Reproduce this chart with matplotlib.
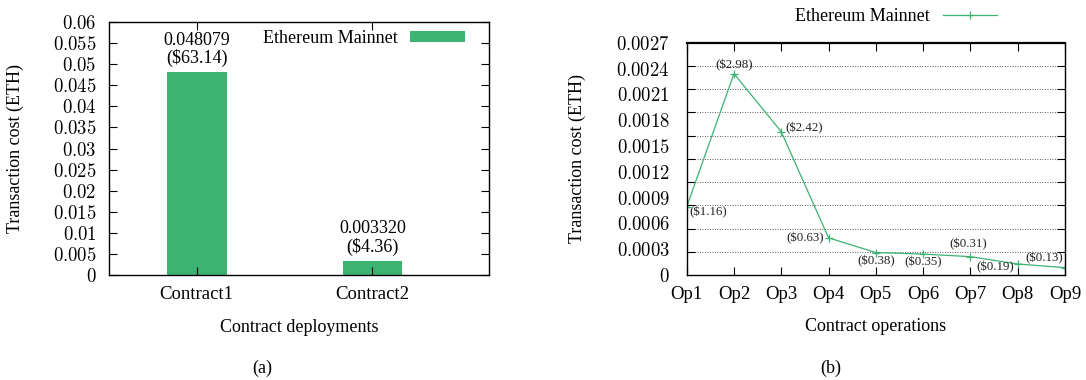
import numpy as np
import matplotlib
matplotlib.use("Agg")
import matplotlib.pyplot as plt
from matplotlib.ticker import FixedLocator, NullFormatter
from matplotlib.lines import Line2D
from matplotlib.patches import Patch

# ---------------- data ----------------
contracts = ["Contract1", "Contract2"]
deploy_eth = [0.048079, 0.003320]
deploy_usd = ["$63.14", "$4.36"]
left_yticks = [0, 0.005, 0.01, 0.015, 0.02, 0.025, 0.03, 0.035, 0.04, 0.045, 0.05, 0.055, 0.06]
left_yticklabels = ["0", "0.005", "0.01", "0.015", "0.02", "0.025", "0.03", "0.035",
                    "0.04", "0.045", "0.05", "0.055", "0.06"]

ops = ["Op1", "Op2", "Op3", "Op4", "Op5", "Op6", "Op7", "Op8", "Op9"]
op_eth = [0.00088, 0.0026, 0.00185, 0.00048, 0.00029, 0.00027, 0.000237, 0.000142, 0.000095]
op_usd = ["$1.16", "$2.98", "$2.42", "$0.63", "$0.38", "$0.35", "$0.31", "$0.19", "$0.13"]
right_yticklabels = ["0", "0.0003", "0.0006", "0.0009", "0.0012", "0.0015",
                     "0.0018", "0.0021", "0.0024", "0.0027"]
right_grid = [0.0003, 0.0006, 0.0009, 0.0012, 0.0015, 0.0018, 0.0021, 0.0024, 0.0027]

# label placement (pixels offset, alignment)
op_label_pos = [(3, -5, "left"), (0, 9, "center"), (4, 4, "left"), (-5, 0, "right"),
                (0, -9, "center"), (0, -8, "center"), (-2, 12, "center"),
                (-4, -3, "right"), (-2, 9, "right")]

GREEN = "#3cb371"
plt.rcParams["font.family"] = ["Liberation Serif", "DejaVu Serif"]
plt.rcParams["mathtext.fontset"] = "cm"

W, H = 1086, 380
fig = plt.figure(figsize=(W / 100, H / 100), dpi=100)

def ax_rect(l, r, t, b):
    return [l / W, (H - b) / H, (r - l) / W, (b - t) / H]

def cm(s):
    return "$" + s + "$"

# ---------------- (a) bar chart ----------------
ax1 = fig.add_axes(ax_rect(109, 489, 22, 275))
x = np.arange(len(contracts))
bars = ax1.bar(x, deploy_eth, width=0.34, color=GREEN, label="Ethereum Mainnet")
ax1.set_xlim(-0.499, 1.663)
ax1.set_ylim(0, 0.06)
ax1.set_xticks(x)
ax1.set_xticklabels(contracts, fontsize=13.5)
ax1.set_yticks(left_yticks)
ax1.set_yticklabels([cm(s) for s in left_yticklabels], fontsize=13.5)
ax1.tick_params(direction="in", length=6, width=0.8, top=True, right=True, colors="black")
ax1.tick_params(axis="y", pad=9)
ax1.tick_params(axis="x", pad=8)
for sp in ax1.spines.values():
    sp.set_linewidth(1.0)
for xi, v, usd in zip(x, deploy_eth, deploy_usd):
    ax1.annotate(f"{v:.6f}\n({usd})", xy=(xi, v), xytext=(0, 5), textcoords="offset pixels",
                 ha="center", va="bottom", fontsize=13, linespacing=1.05)
ax1.set_xlabel("Contract deployments", fontsize=13)
ax1.xaxis.set_label_coords(0.5, -0.172)
ax1.set_ylabel("Transaction cost (ETH)", fontsize=13)
ax1.yaxis.set_label_coords(-0.224, 0.5)
leg1 = ax1.legend(handles=[Patch(facecolor=GREEN, edgecolor="none", label="Ethereum Mainnet")],
                  loc="center", bbox_to_anchor=(364 / W, 1 - 38.5 / H),
                  bbox_transform=fig.transFigure, frameon=False, markerfirst=False,
                  fontsize=13, handlelength=3.05, handleheight=0.6, handletextpad=0.72,
                  borderpad=0, borderaxespad=0)

# ---------------- (b) line chart ----------------
ax2 = fig.add_axes(ax_rect(686.7, 1065, 42.7, 275))
xo = np.arange(len(ops))
ax2.plot(xo, op_eth, color=GREEN, lw=0.9, marker="+", markersize=6, markeredgewidth=0.9)
ax2.set_xlim(0, len(ops) - 1)
ax2.set_ylim(0, 0.003)
ax2.set_xticks(xo)
ax2.set_xticklabels(ops, fontsize=13.5)
ax2.yaxis.set_major_locator(FixedLocator(np.linspace(0, 0.003, len(right_yticklabels))))
ax2.set_yticklabels([cm(s) for s in right_yticklabels], fontsize=13.5)
ax2.yaxis.set_minor_locator(FixedLocator(right_grid))
ax2.yaxis.set_minor_formatter(NullFormatter())
ax2.tick_params(axis="y", which="major", length=0, pad=12)
ax2.tick_params(axis="y", which="minor", direction="in", length=6, width=0.8, left=True, right=True)
ax2.tick_params(axis="x", direction="in", length=6, width=0.8, top=True, pad=8)
ax2.grid(axis="y", which="minor", linestyle=(0, (1, 2)), color="#222222", lw=0.6)
for sp in ax2.spines.values():
    sp.set_linewidth(1.0)
ax2.spines["top"].set_linewidth(1.6)
for xi, v, usd, (dx, dy, ha) in zip(xo, op_eth, op_usd, op_label_pos):
    ax2.annotate(f"({usd})", xy=(xi, v), xytext=(dx, dy), textcoords="offset pixels",
                 ha=ha, va="center", fontsize=9.3, color="#222222")
ax2.set_xlabel("Contract operations", fontsize=13)
ax2.xaxis.set_label_coords(0.5, -0.187)
ax2.set_ylabel("Transaction cost (ETH)", fontsize=13)
ax2.yaxis.set_label_coords(-0.266, 0.5)
leg2 = ax2.legend(handles=[Line2D([0], [0], color=GREEN, lw=0.9, marker="+", markersize=6,
                                  markeredgewidth=0.9, label="Ethereum Mainnet")],
                  loc="center", bbox_to_anchor=(896 / W, 1 - 16.7 / H),
                  bbox_transform=fig.transFigure, frameon=False, markerfirst=False,
                  fontsize=13, handlelength=3.0, handletextpad=0.69,
                  borderpad=0, borderaxespad=0)

fig.text(262 / W, 1 - 368 / H, "(a)", ha="center", va="center", fontsize=13)
fig.text(830.7 / W, 1 - 368 / H, "(b)", ha="center", va="center", fontsize=13)

fig.savefig("out.png", dpi=100)
